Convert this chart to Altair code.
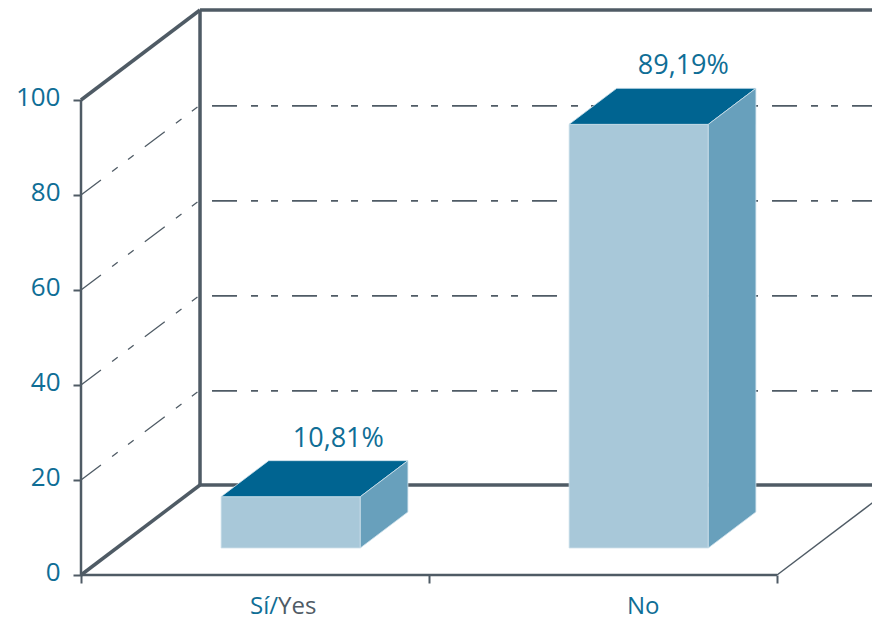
import altair as alt
import pandas as pd

categories = ["Sí/Yes", "No"]
values = [10.81, 89.19]
value_labels = ["10,81%", "89,19%"]
value_label_shift = [0, -3]
y_ticks = [0, 20, 40, 60, 80, 100]
x_ticks = [0, 1, 2]
grid_values = [20, 40, 60, 80]
# category label pieces: text, category, shift from the category centre in px, alignment
label_text = ["Sí/", "Yes", "N", "o"]
label_cat = [0, 0, 1, 1]
label_shift = [23, 23, 42, 42]
label_align = ["right", "left", "right", "left"]

DX = 0.342   # category units per unit of depth
DY = 18.95   # value units per unit of depth
BAR_LO, BAR_HI = 0.3, 0.7
D0, D1 = 0.3, 0.7
X_END = 2.31

C_AXIS = "#4f5b65"
C_TEXT = "#0f6e96"
C_FRONT = "#a8c8d9"
C_TOP = "#006491"
C_SIDE = "#68a0bc"
C_EDGE = "#cfe2ec"
DASH = [25, 14, 7, 13, 7, 14]
FONT = "Open Sans"


def px(x, d):
    return x + d * DX


def py(v, d):
    return v + d * DY


W, H = 864, 612
x_scale = alt.Scale(domain=[-73 / 348, (W - 73) / 348], range=[0, W], nice=False, zero=False)
y_scale = alt.Scale(domain=[(567 - H) / 4.75, 567 / 4.75], range=[H, 0], nice=False, zero=False)
x_axis = alt.Axis(values=x_ticks, offset=-(H - 567), domain=False, grid=False, tickSize=8, tickWidth=2,
                  tickColor=C_AXIS, labelExpr="''", title=None)
y_axis = alt.Axis(values=y_ticks, offset=-73, domain=False, grid=False, tickSize=8, tickWidth=2,
                  tickColor=C_AXIS, labelFont=FONT, labelFontSize=26, labelColor=C_TEXT,
                  labelPadding=13, labelOffset=-3, title=None)
X = lambda: alt.X("x:Q", scale=x_scale, axis=x_axis)
Y = lambda: alt.Y("y:Q", scale=y_scale, axis=y_axis)


def seg(x0, y0, d0, x1, y1, d1, **mark):
    df = pd.DataFrame({"x": [px(x0, d0), px(x1, d1)], "y": [py(y0, d0), py(y1, d1)], "o": [0, 1]})
    return alt.Chart(df).mark_line(clip=True, **mark).encode(x=X(), y=Y(), order="o:Q")


layers = []

for v in grid_values:
    layers.append(seg(0, v, 0, 0, v, 1, color=C_AXIS, strokeWidth=1.3, strokeDash=DASH))
    layers.append(seg(12 / 348, v - 0.2, 1, X_END, v - 0.2, 1, color=C_AXIS, strokeWidth=1.8, strokeDash=DASH))

layers.append(seg(0, 100, 1, X_END, 100, 1, color=C_AXIS, strokeWidth=3.5))
layers.append(seg(0, 0, 1, X_END, 0, 1, color=C_AXIS, strokeWidth=3.5))
layers.append(seg(0, 0, 1, 0, 100, 1, color=C_AXIS, strokeWidth=3.5))
layers.append(seg(0, 100, 0, 0, 100, 1, color=C_AXIS, strokeWidth=3.5))
layers.append(seg(0, 0, 0, 0, 0, 1, color=C_AXIS, strokeWidth=3.5))
layers.append(seg(0, 0, 0, 0, 100, 0, color=C_AXIS, strokeWidth=2.5))
layers.append(seg(0, 0, 0, 2, 0, 0, color=C_AXIS, strokeWidth=2.5))
layers.append(seg(2, 0, 0, 2, 0, 1, color=C_AXIS, strokeWidth=1.5))

for i, (val, lab, sh) in enumerate(zip(values, value_labels, value_label_shift)):
    lo, hi = i + BAR_LO, i + BAR_HI
    front = pd.DataFrame({"x": [px(lo, D0)], "x2": [px(hi, D0)], "y": [py(0, D0)], "y2": [py(val, D0)]})
    layers.append(
        alt.Chart(front).mark_rect(color=C_FRONT, stroke=C_EDGE, strokeWidth=0.8).encode(
            x=X(), x2="x2:Q", y=Y(), y2="y2:Q"
        )
    )
    top = pd.DataFrame({
        "y": [py(val, D0), py(val, D1)],
        "x": [px(lo, D0), px(lo, D1)],
        "x2": [px(hi, D0), px(hi, D1)],
    })
    layers.append(
        alt.Chart(top).mark_area(orient="horizontal", color=C_TOP, stroke=C_EDGE, strokeWidth=0.8).encode(
            y=Y(), x=X(), x2="x2:Q"
        )
    )
    side = pd.DataFrame({
        "x": [px(hi, D0), px(hi, D1)],
        "y": [py(0, D0), py(0, D1)],
        "y2": [py(val, D0), py(val, D1)],
    })
    layers.append(
        alt.Chart(side).mark_area(orient="vertical", color=C_SIDE, stroke=C_EDGE, strokeWidth=0.8).encode(
            x=X(), y=Y(), y2="y2:Q"
        )
    )
    value_df = pd.DataFrame({"x": [px(i + 0.5, D1) + sh / 348], "y": [py(val, D1)], "t": [lab]})
    layers.append(
        alt.Chart(value_df).mark_text(font=FONT, fontSize=27, color=C_TEXT, dy=-14,
                                      align="center", baseline="alphabetic").encode(x=X(), y=Y(), text="t:N")
    )

# category labels, two-tone as in the reference
for t, c, s, a in zip(label_text, label_cat, label_shift, label_align):
    col = C_TEXT if t in ("Sí/", "N", "o") else C_AXIS
    df = pd.DataFrame({"x": [c + 0.5 + s / 348], "y": [0], "t": [t]})
    layers.append(
        alt.Chart(df).mark_text(font=FONT, fontSize=24, color=col, dy=39, align=a,
                                baseline="alphabetic").encode(x=X(), y=Y(), text="t:N")
    )

chart = alt.layer(*layers).properties(
    width=W, height=H, padding=0, autosize=alt.AutoSizeParams(type="none")
).configure_view(stroke=None)

chart.save("out.html", embed_options={"renderer": "svg", "actions": False})
